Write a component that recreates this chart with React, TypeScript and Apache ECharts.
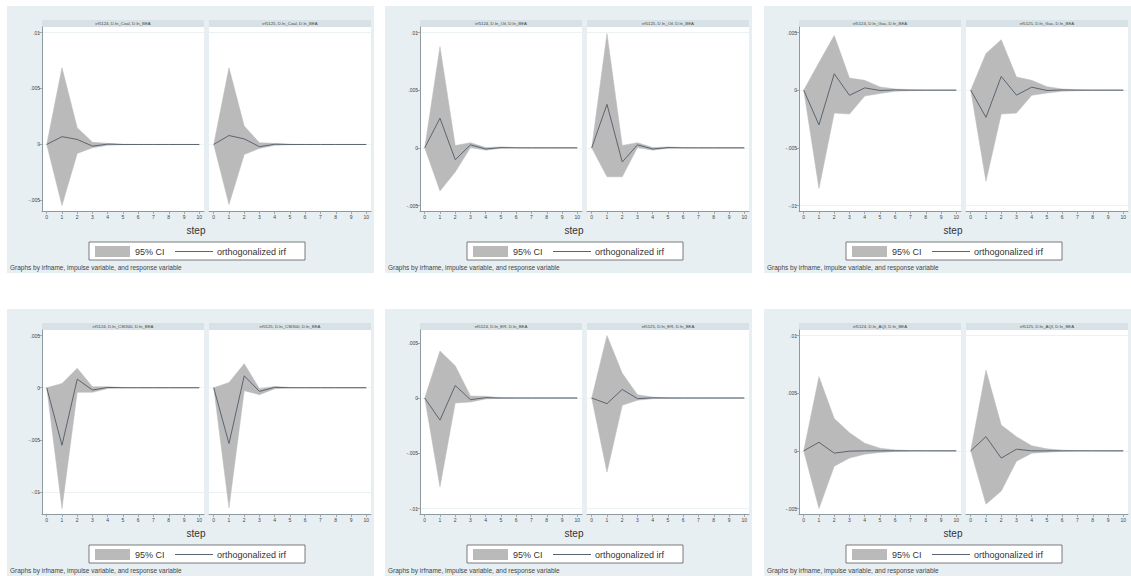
import React, { useEffect, useRef } from "react";
import * as echarts from "echarts";

// ---------- data ----------
const STEPS = [0, 1, 2, 3, 4, 5, 6, 7, 8, 9, 10];
const IRF_NAMES = ["irf5124", "irf5125"];
const RESPONSE = "D.ln_BEA";
const IMPULSES = ["D.ln_Coal", "D.ln_Oil", "D.ln_Gas", "D.ln_CSI300", "D.ln_ER", "D.ln_AQI"];

const TICKS_COAL = [-0.005, 0, 0.005, 0.01];
const TICKS_OIL = [-0.005, 0, 0.005, 0.01];
const TICKS_GAS = [-0.01, -0.005, 0, 0.005];
const TICKS_CSI300 = [-0.01, -0.005, 0, 0.005];
const TICKS_ER = [-0.01, -0.005, 0, 0.005];
const TICKS_AQI = [-0.005, 0, 0.005, 0.01];

// Coal
const COAL_A_IRF = [0, 0.0007, 0.00045, -0.00015, 0.00003, 0, 0, 0, 0, 0, 0];
const COAL_A_LO = [0, -0.00545, -0.0008, -0.0003, -0.00008, -0.00002, 0, 0, 0, 0, 0];
const COAL_A_UP = [0, 0.00685, 0.0015, 0.0002, 0.0001, 0.00002, 0, 0, 0, 0, 0];
const COAL_B_IRF = [0, 0.0008, 0.0005, -0.0002, 0.00002, 0, 0, 0, 0, 0, 0];
const COAL_B_LO = [0, -0.00536, -0.0009, -0.00035, -0.00008, -0.00002, 0, 0, 0, 0, 0];
const COAL_B_UP = [0, 0.00685, 0.00164, 0.00015, 0.0001, 0.00002, 0, 0, 0, 0, 0];
// Oil
const OIL_A_IRF = [0, 0.00257, -0.00103, 0.00026, -0.0001, 0.00002, 0, 0, 0, 0, 0];
const OIL_A_LO = [0, -0.00374, -0.00209, 0.00003, -0.0002, -0.00004, 0, 0, 0, 0, 0];
const OIL_A_UP = [0, 0.00877, 0.0002, 0.00045, 0.00002, 0.00008, 0.00002, 0, 0, 0, 0];
const OIL_B_IRF = [0, 0.00377, -0.00123, 0.00026, -0.0001, 0.00002, 0, 0, 0, 0, 0];
const OIL_B_LO = [0, -0.00251, -0.00251, 0.00003, -0.0002, -0.00004, 0, 0, 0, 0, 0];
const OIL_B_UP = [0, 0.00991, 0.0002, 0.00045, 0.00002, 0.00008, 0.00002, 0, 0, 0, 0];
// Gas
const GAS_A_IRF = [0, -0.00301, 0.00142, -0.00045, 0.0002, -0.00003, 0.00002, 0, 0, 0, 0];
const GAS_A_LO = [0, -0.00852, -0.00199, -0.00207, -0.00051, -0.00028, -0.0001, -0.00004, -0.00001, 0, 0];
const GAS_A_UP = [0, 0.00239, 0.00474, 0.00105, 0.00085, 0.00028, 0.0001, 0.00004, 0.00001, 0, 0];
const GAS_B_IRF = [0, -0.00236, 0.00119, -0.00043, 0.00026, -0.00003, 0.00002, 0, 0, 0, 0];
const GAS_B_LO = [0, -0.0079, -0.00207, -0.00199, -0.00045, -0.00025, -0.0001, -0.00004, -0.00001, 0, 0];
const GAS_B_UP = [0, 0.00318, 0.00438, 0.00114, 0.00085, 0.0003, 0.0001, 0.00004, 0.00001, 0, 0];
// CSI300
const CSI_A_IRF = [0, -0.0055, 0.00082, -0.00022, 0.00003, 0, 0, 0, 0, 0, 0];
const CSI_A_LO = [0, -0.01156, -0.00044, -0.00044, -0.00008, -0.00002, 0, 0, 0, 0, 0];
const CSI_A_UP = [0, 0.00041, 0.00186, 0.0001, 0.0001, 0.00002, 0, 0, 0, 0, 0];
const CSI_B_IRF = [0, -0.00534, 0.00114, -0.00035, 0.00004, 0, 0, 0, 0, 0, 0];
const CSI_B_LO = [0, -0.0115, -0.00028, -0.00066, -0.0001, -0.00002, 0, 0, 0, 0, 0];
const CSI_B_UP = [0, 0.0005, 0.0023, -0.0001, 0.00012, 0.00002, 0, 0, 0, 0, 0];
// ER
const ER_A_IRF = [0, -0.002, 0.00113, -0.00015, 0.00003, 0, 0, 0, 0, 0, 0];
const ER_A_LO = [0, -0.00805, -0.00045, -0.00036, -0.00008, -0.00002, 0, 0, 0, 0, 0];
const ER_A_UP = [0, 0.00426, 0.00292, 0.00018, 0.00015, 0.00003, 0, 0, 0, 0, 0];
const ER_B_IRF = [0, -0.00051, 0.00078, -0.00006, 0.00002, 0, 0, 0, 0, 0, 0];
const ER_B_LO = [0, -0.00671, -0.00066, -0.0002, -0.00006, -0.00001, 0, 0, 0, 0, 0];
const ER_B_UP = [0, 0.00566, 0.00224, 0.0003, 0.00008, 0.00002, 0, 0, 0, 0, 0];
// AQI
const AQI_A_IRF = [0, 0.00074, -0.0002, -0.00003, 0, 0, 0, 0, 0, 0, 0];
const AQI_A_LO = [0, -0.005, -0.00134, -0.00063, -0.00029, -0.00014, -0.00005, -0.00002, 0, 0, 0];
const AQI_A_UP = [0, 0.00643, 0.0028, 0.00157, 0.00066, 0.00023, 0.00008, 0.00003, 0.00001, 0, 0];
const AQI_B_IRF = [0, 0.00123, -0.00063, 0.00014, 0, 0, 0, 0, 0, 0, 0];
const AQI_B_LO = [0, -0.00463, -0.00349, -0.00091, -0.0002, -0.00012, -0.00004, -0.00001, 0, 0, 0];
const AQI_B_UP = [0, 0.007, 0.00223, 0.00123, 0.00043, 0.00017, 0.00006, 0.00002, 0.00001, 0, 0];

const LEGEND_CI = "95% CI";
const LEGEND_IRF = "orthogonalized irf";
const X_TITLE = "step";
const NOTE = "Graphs by irfname, impulse variable, and response variable";

// ---------- assembly ----------
const PANELS = [
  { impulse: IMPULSES[0], ticks: TICKS_COAL, subs: [{ irf: COAL_A_IRF, lo: COAL_A_LO, up: COAL_A_UP }, { irf: COAL_B_IRF, lo: COAL_B_LO, up: COAL_B_UP }] },
  { impulse: IMPULSES[1], ticks: TICKS_OIL, subs: [{ irf: OIL_A_IRF, lo: OIL_A_LO, up: OIL_A_UP }, { irf: OIL_B_IRF, lo: OIL_B_LO, up: OIL_B_UP }] },
  { impulse: IMPULSES[2], ticks: TICKS_GAS, subs: [{ irf: GAS_A_IRF, lo: GAS_A_LO, up: GAS_A_UP }, { irf: GAS_B_IRF, lo: GAS_B_LO, up: GAS_B_UP }] },
  { impulse: IMPULSES[3], ticks: TICKS_CSI300, subs: [{ irf: CSI_A_IRF, lo: CSI_A_LO, up: CSI_A_UP }, { irf: CSI_B_IRF, lo: CSI_B_LO, up: CSI_B_UP }] },
  { impulse: IMPULSES[4], ticks: TICKS_ER, subs: [{ irf: ER_A_IRF, lo: ER_A_LO, up: ER_A_UP }, { irf: ER_B_IRF, lo: ER_B_LO, up: ER_B_UP }] },
  { impulse: IMPULSES[5], ticks: TICKS_AQI, subs: [{ irf: AQI_A_IRF, lo: AQI_A_LO, up: AQI_A_UP }, { irf: AQI_B_IRF, lo: AQI_B_LO, up: AQI_B_UP }] },
];

const FONT = "'Liberation Sans', Arial, sans-serif";
const BG = "#e8eff2";
const STRIP = "#d8e2e6";
const CI = "#bababa";
const LINE = "#5a6570";
const AXIS = "#8e9a9f";
const GRIDC = "#e9eff1";
const TXT = "#444";

const PANEL_X = [7, 385, 764];
const PANEL_Y = [6, 309];
const PANEL_W = 367;
const PANEL_H = 267;

function stataLabel(v: number): string {
  if (Math.abs(v) < 1e-12) return "0";
  const s = String(Number(v.toFixed(4)));
  return s.replace(/^(-?)0\./, "$1.");
}

function buildOption() {
  const grid: any[] = [];
  const xAxis: any[] = [];
  const yAxis: any[] = [];
  const series: any[] = [];
  const graphics: any[] = [];

  PANELS.forEach((p, pi) => {
    const px = PANEL_X[pi % 3];
    const py = PANEL_Y[Math.floor(pi / 3)];
    const lo = Math.min(...p.ticks, ...p.subs[0].lo, ...p.subs[1].lo);
    const hi = Math.max(...p.ticks, ...p.subs[0].up, ...p.subs[1].up);
    const pad = ((hi - lo) * 5.5) / 173;
    const yMin = lo - pad;
    const yMax = hi + pad;

    graphics.push({ type: "rect", silent: true, z: -30, shape: { x: px, y: py, width: PANEL_W, height: PANEL_H }, style: { fill: BG } });

    p.subs.forEach((s, k) => {
      const g = pi * 2 + k;
      const gx = px + (k === 0 ? 35 : 202);
      const gy = py + 21;
      const gw = 162;
      const gh = 184;
      grid.push({ left: gx, top: gy, width: gw, height: gh, show: false });
      graphics.push({ type: "rect", silent: true, z: -25, shape: { x: gx, y: py + 14, width: gw, height: 7 }, style: { fill: STRIP } });
      graphics.push({ type: "rect", silent: true, z: -25, shape: { x: gx, y: gy, width: gw, height: gh }, style: { fill: "#ffffff" } });
      graphics.push({
        type: "text", silent: true, z: -20, x: gx + gw / 2, y: py + 17.6,
        style: { text: `${IRF_NAMES[k]}, ${p.impulse}, ${RESPONSE}`, fill: TXT, fontSize: 4.3, fontFamily: FONT, align: "center", verticalAlign: "middle" },
      });

      xAxis.push({
        type: "value", gridIndex: g, min: -0.31, max: 10.31,
        axisLine: { show: true, onZero: false, lineStyle: { color: AXIS, width: 1 } },
        axisTick: { show: true, length: 3, customValues: STEPS, lineStyle: { color: AXIS, width: 0.8 } },
        axisLabel: { show: true, customValues: STEPS, fontSize: 5, color: TXT, margin: 3, fontFamily: FONT },
        splitLine: { show: false },
      });
      yAxis.push({
        type: "value", gridIndex: g, min: yMin, max: yMax,
        axisLine: { show: k === 0, onZero: false, lineStyle: { color: AXIS, width: 1 } },
        axisTick: { show: k === 0, length: 3, customValues: p.ticks, lineStyle: { color: AXIS, width: 0.8 } },
        axisLabel: { show: k === 0, customValues: p.ticks, fontSize: 5, color: TXT, margin: 2, fontFamily: FONT, formatter: (v: number) => stataLabel(v) },
        splitLine: { show: false },
      });

      // invisible carrier of the horizontal grid lines (below the band)
      series.push({
        type: "line", xAxisIndex: g, yAxisIndex: g,
        data: STEPS.map((x, i) => [x, s.irf[i]]), symbol: "none", silent: true, z: 0,
        lineStyle: { width: 0, opacity: 0 },
        markLine: {
          z: 0, silent: true, symbol: ["none", "none"], label: { show: false }, animation: false,
          lineStyle: { color: GRIDC, width: 0.7, type: "solid" },
          data: p.ticks.map((t) => ({ yAxis: t })),
        },
      });
      // confidence band as one polygon
      series.push({
        type: "custom", xAxisIndex: g, yAxisIndex: g, silent: true, z: 2,
        data: STEPS.map((x, i) => [x, s.lo[i], s.up[i]]),
        encode: { x: 0, y: [1, 2] },
        renderItem: (params: any, api: any) => {
          if (params.dataIndex !== 0) return null;
          const upper = STEPS.map((x, i) => api.coord([x, s.up[i]]));
          const lower = STEPS.map((x, i) => api.coord([x, s.lo[i]])).reverse();
          return { type: "polygon", shape: { points: upper.concat(lower) }, style: { fill: CI, stroke: CI, lineWidth: 0.5 } };
        },
      });
      // irf line
      series.push({
        type: "line", xAxisIndex: g, yAxisIndex: g,
        data: STEPS.map((x, i) => [x, s.irf[i]]), symbol: "none", silent: true, z: 3,
        lineStyle: { color: LINE, width: 1 },
      });
    });

    // x title
    graphics.push({ type: "text", silent: true, z: 5, x: px + 189, y: py + 224, style: { text: X_TITLE, fill: "#333", fontSize: 10, fontFamily: FONT, align: "center", verticalAlign: "middle" } });
    // legend
    graphics.push({ type: "rect", silent: true, z: 5, shape: { x: px + 82, y: py + 236, width: 216, height: 18 }, style: { fill: "#ffffff", stroke: "#5a5a5a", lineWidth: 0.8 } });
    graphics.push({ type: "rect", silent: true, z: 6, shape: { x: px + 88, y: py + 240, width: 35, height: 11 }, style: { fill: CI } });
    graphics.push({ type: "text", silent: true, z: 6, x: px + 128, y: py + 245.5, style: { text: LEGEND_CI, fill: "#333", fontSize: 9, fontFamily: FONT, align: "left", verticalAlign: "middle" } });
    graphics.push({ type: "line", silent: true, z: 6, shape: { x1: px + 168, y1: py + 245.5, x2: px + 206, y2: py + 245.5 }, style: { stroke: LINE, lineWidth: 1 } });
    graphics.push({ type: "text", silent: true, z: 6, x: px + 210, y: py + 245.5, style: { text: LEGEND_IRF, fill: "#333", fontSize: 9, fontFamily: FONT, align: "left", verticalAlign: "middle" } });
    // note
    graphics.push({ type: "text", silent: true, z: 5, x: px + 3, y: py + 261, style: { text: NOTE, fill: TXT, fontSize: 6.5, fontFamily: FONT, align: "left", verticalAlign: "middle" } });
  });

  return {
    animation: false,
    backgroundColor: "#ffffff",
    textStyle: { fontFamily: FONT },
    grid,
    xAxis,
    yAxis,
    series,
    graphic: { elements: graphics },
  };
}

export default function App() {
  const ref = useRef<HTMLDivElement>(null);
  useEffect(() => {
    if (!ref.current) return;
    const chart = echarts.init(ref.current, undefined, { renderer: "svg" });
    chart.setOption(buildOption() as any);
    return () => chart.dispose();
  }, []);
  return <div ref={ref} style={{ position: "absolute", left: 0, top: 0, width: 1131, height: 576 }} />;
}
